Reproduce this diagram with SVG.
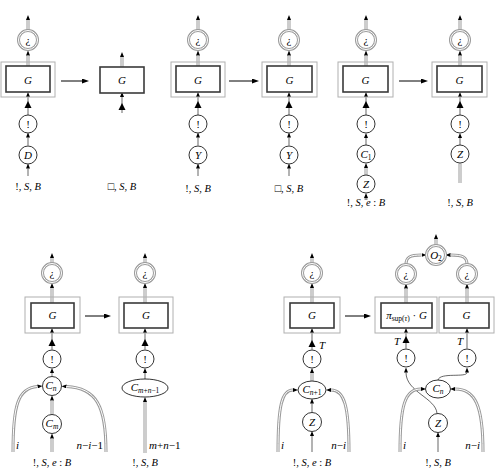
<svg xmlns="http://www.w3.org/2000/svg" width="496" height="470" viewBox="0 0 496 470" font-family="Liberation Serif, DejaVu Serif, serif" font-weight="normal">
<defs>
<style>
text{font-family:"Liberation Serif","DejaVu Serif",serif;font-size:11px;fill:#000;font-weight:normal}
.m{font-style:italic}
.lb{text-anchor:middle;font-size:10.5px}
.ct{text-anchor:middle}
.sub{font-size:7.5px}
.ob{fill:none;stroke:#b0b0b0;stroke-width:1}
.ib{fill:#fff;stroke:#3a3a3a;stroke-width:1.6}
.nd{fill:#fff;stroke:#000;stroke-width:0.8}
.gr{fill:#fff;stroke:#9a9a9a;stroke-width:3}
.gri{fill:none;stroke:#fff;stroke-width:1}
.th{fill:none;stroke:#000;stroke-width:0.6}
.tg{fill:none;stroke:#777;stroke-width:0.9}
.db{fill:none;stroke:#9a9a9a;stroke-width:3}
.dbi{fill:none;stroke:#fff;stroke-width:1}
.big{fill:none;stroke:#000;stroke-width:1}
</style>
<marker id="ah" viewBox="0 0 5 4" refX="0" refY="2" markerWidth="5" markerHeight="4" markerUnits="userSpaceOnUse" orient="auto"><path d="M0,0 L5,2 L0,4 z" fill="#000"/></marker>
<marker id="al" viewBox="0 0 7 5" refX="0" refY="2.5" markerWidth="7" markerHeight="5" markerUnits="userSpaceOnUse" orient="auto"><path d="M0,0 L7,2.5 L0,5 z" fill="#000"/></marker>
</defs>

<g id="connectors">
<!-- D1 -->
<path class="db" d="M28,30.5 V20" marker-end="url(#ah)"/><path class="dbi" d="M28,30.5 V20"/>
<path class="db" d="M28,66 V55.5" marker-end="url(#ah)"/><path class="dbi" d="M28,66 V55.5"/>
<path class="th" d="M28,115 V97" marker-end="url(#ah)"/><polygon points="28,101 31.5,108 24.5,108"/>
<path class="th" d="M28,145.5 V137.5" marker-end="url(#ah)"/>
<path class="th" d="M28,176 V168.5" marker-end="url(#ah)"/>
<path class="big" d="M61,81 H82" marker-end="url(#al)"/>
<!-- D2 -->
<path class="db" d="M122,67 V57" marker-end="url(#ah)"/><path class="dbi" d="M122,67 V57"/>
<path class="th" d="M122,113 V97" marker-end="url(#ah)"/><polygon points="122,103 125.5,110 118.5,110"/>
<!-- D3 -->
<path class="db" d="M198,30.5 V20" marker-end="url(#ah)"/><path class="dbi" d="M198,30.5 V20"/>
<path class="db" d="M198,66 V55.5" marker-end="url(#ah)"/><path class="dbi" d="M198,66 V55.5"/>
<path class="th" d="M198,115 V97" marker-end="url(#ah)"/><polygon points="198,101 201.5,108 194.5,108"/>
<path class="th" d="M198,145.5 V137.5" marker-end="url(#ah)"/>
<path class="th" d="M198,176 V168.5" marker-end="url(#ah)"/>
<path class="big" d="M229,81 H252" marker-end="url(#al)"/>
<!-- D4 -->
<path class="db" d="M289,30.5 V20" marker-end="url(#ah)"/><path class="dbi" d="M289,30.5 V20"/>
<path class="db" d="M289,66 V55.5" marker-end="url(#ah)"/><path class="dbi" d="M289,66 V55.5"/>
<path class="th" d="M289,115 V97" marker-end="url(#ah)"/><polygon points="289,101 292.5,108 285.5,108"/>
<path class="th" d="M289,145.5 V137.5" marker-end="url(#ah)"/>
<path class="th" d="M289,176 V168.5" marker-end="url(#ah)"/>
<!-- D5 -->
<path class="db" d="M366,30.5 V20" marker-end="url(#ah)"/><path class="dbi" d="M366,30.5 V20"/>
<path class="db" d="M366,66 V55.5" marker-end="url(#ah)"/><path class="dbi" d="M366,66 V55.5"/>
<path class="th" d="M366,115 V97" marker-end="url(#ah)"/><polygon points="366,101 369.5,108 362.5,108"/>
<path class="th" d="M366,145 V138" marker-end="url(#ah)"/>
<path class="db" d="M366,175 V168" marker-end="url(#ah)"/><path class="dbi" d="M366,175 V168"/>
<path class="db" d="M366,200 V198" marker-end="url(#ah)"/>
<path class="big" d="M399,81 H421" marker-end="url(#al)"/>
<!-- D6 -->
<path class="db" d="M460,30.5 V20" marker-end="url(#ah)"/><path class="dbi" d="M460,30.5 V20"/>
<path class="db" d="M460,66 V55.5" marker-end="url(#ah)"/><path class="dbi" d="M460,66 V55.5"/>
<path class="th" d="M460,115 V97" marker-end="url(#ah)"/><polygon points="460,101 463.5,108 456.5,108"/>
<path class="th" d="M460,145 V138" marker-end="url(#ah)"/>
<path class="db" d="M460,163.5 V183"/><path class="dbi" d="M460,164 V183"/>

<!-- D7 -->
<path class="db" d="M52,263.5 V258" marker-end="url(#ah)"/><path class="dbi" d="M52,263.5 V258"/>
<path class="db" d="M52,303 V288" marker-end="url(#ah)"/><path class="dbi" d="M52,303 V288"/>
<path class="th" d="M52,349.5 V333" marker-end="url(#ah)"/><polygon points="52,339 55.5,346 48.5,346"/>
<path class="tg" d="M52,376.5 V373" marker-end="url(#ah)"/>
<path class="db" d="M52,414.5 V400.5" marker-end="url(#ah)"/><path class="dbi" d="M52,414.5 V400.5"/>
<path class="db" d="M52,452 V438.5" marker-end="url(#ah)"/><path class="dbi" d="M52,452 V438.5"/>
<path class="db" d="M13,452 C13,405 18,388 37.5,386.5" marker-end="url(#ah)"/><path class="dbi" d="M13,452 C13,405 18,388 37.5,386.5"/>
<path class="db" d="M106,452 C106,405 96,388 66.5,386.5" marker-end="url(#ah)"/><path class="dbi" d="M106,452 C106,405 96,388 66.5,386.5"/>
<path class="big" d="M85,316 H104" marker-end="url(#al)"/>
<!-- D8 -->
<path class="db" d="M145,263.5 V258" marker-end="url(#ah)"/><path class="dbi" d="M145,263.5 V258"/>
<path class="db" d="M145,303 V288" marker-end="url(#ah)"/><path class="dbi" d="M145,303 V288"/>
<path class="th" d="M145,349.5 V333" marker-end="url(#ah)"/><polygon points="145,339 148.5,346 141.5,346"/>
<path class="th" d="M145,379 V373" marker-end="url(#ah)"/>
<path class="db" d="M145,453 V402" marker-end="url(#ah)"/><path class="dbi" d="M145,453 V402"/>
<!-- D9 -->
<path class="db" d="M312,263.5 V258" marker-end="url(#ah)"/><path class="dbi" d="M312,263.5 V258"/>
<path class="db" d="M312,303 V288" marker-end="url(#ah)"/><path class="dbi" d="M312,303 V288"/>
<path class="th" d="M312,349.5 V333" marker-end="url(#ah)"/><polygon points="312,340 315.5,347 308.5,347"/>
<path class="db" d="M312,381 V373" marker-end="url(#ah)"/><path class="dbi" d="M312,381 V373"/>
<path class="th" d="M312,412.5 V403.5" marker-end="url(#ah)"/>
<path class="th" d="M312,452 V436" marker-end="url(#ah)"/>
<path class="db" d="M278,452 C278,405 282,390 293,390" marker-end="url(#ah)"/><path class="dbi" d="M278,452 C278,405 282,390 293,390"/>
<path class="db" d="M349,452 C349,405 344,390 331,390" marker-end="url(#ah)"/><path class="dbi" d="M349,452 C349,405 344,390 331,390"/>
<path class="big" d="M345,316 H364" marker-end="url(#al)"/>
<!-- D10 -->
<path class="db" d="M436,245.5 V239" marker-end="url(#ah)"/><path class="dbi" d="M436,245.5 V239"/>
<path class="db" d="M406,264.5 C406,257 410,255 421.5,255" marker-end="url(#ah)"/><path class="dbi" d="M406,264.5 C406,257 410,255 421.5,255"/>
<path class="db" d="M467,264.5 C467,257 463,255 450.5,255" marker-end="url(#ah)"/><path class="dbi" d="M467,264.5 C467,257 463,255 450.5,255"/>
<path class="db" d="M406,303 V288.5" marker-end="url(#ah)"/><path class="dbi" d="M406,303 V288.5"/>
<path class="db" d="M467,303 V288.5" marker-end="url(#ah)"/><path class="dbi" d="M467,303 V288.5"/>
<path class="th" d="M406,348.5 V333" marker-end="url(#ah)"/><polygon points="406,336 409.5,343 402.5,343"/>
<path class="th" d="M467,348.5 V333" marker-end="url(#ah)"/>
<path class="th" d="M437,413.5 C436,398 406,392 406,372.5" marker-end="url(#ah)"/>
<path class="th" d="M438,380 C440,372 467,378 467,372.5" marker-end="url(#ah)"/>
<path class="th" d="M438,452 V437" marker-end="url(#ah)"/>
<path class="db" d="M400,452 C400,405 405,389 421,389" marker-end="url(#ah)"/><path class="dbi" d="M400,452 C400,405 405,389 421,389"/>
<path class="db" d="M483,452 C483,405 475,389 455,389" marker-end="url(#ah)"/><path class="dbi" d="M483,452 C483,405 475,389 455,389"/>
</g>

<!-- ===== Top row ===== -->
<g id="d1">
<circle class="gr" cx="28" cy="40" r="9.5"/><circle class="gri" cx="28" cy="40" r="9.5"/><text class="ct" x="28" y="44">¿</text>
<rect class="ob" x="1" y="62" width="54" height="35"/><rect class="ib" x="6" y="66" width="44" height="26"/><text class="ct m" x="28" y="83.5">G</text>
<circle class="nd" cx="28" cy="124" r="9"/><text class="ct" x="28" y="128">!</text>
<circle class="nd" cx="28" cy="155" r="9"/><text class="ct m" x="28" y="159">D</text>
<text class="lb" x="28" y="190">!, <tspan class="m">S</tspan>, <tspan class="m">B</tspan></text>
</g>
<g id="d2">
<rect class="ib" x="100" y="67" width="44" height="26"/><text class="ct m" x="122" y="84">G</text>
<text class="lb" x="122" y="190">□, <tspan class="m">S</tspan>, <tspan class="m">B</tspan></text>
</g>
<g id="d3">
<circle class="gr" cx="198" cy="40" r="9.5"/><circle class="gri" cx="198" cy="40" r="9.5"/><text class="ct" x="198" y="44">¿</text>
<rect class="ob" x="171" y="62" width="54" height="35"/><rect class="ib" x="176" y="66" width="44" height="26"/><text class="ct m" x="198" y="83.5">G</text>
<circle class="nd" cx="198" cy="124" r="9"/><text class="ct" x="198" y="128">!</text>
<circle class="nd" cx="198" cy="155" r="9"/><text class="ct m" x="198" y="159">Y</text>
<text class="lb" x="198" y="192">!, <tspan class="m">S</tspan>, <tspan class="m">B</tspan></text>
</g>
<g id="d4">
<circle class="gr" cx="289" cy="40" r="9.5"/><circle class="gri" cx="289" cy="40" r="9.5"/><text class="ct" x="289" y="44">¿</text>
<rect class="ob" x="262" y="62" width="55" height="35"/><rect class="ib" x="267" y="66" width="45" height="26"/><text class="ct m" x="289.5" y="83.5">G</text>
<circle class="nd" cx="289" cy="124" r="9"/><text class="ct" x="289" y="128">!</text>
<circle class="nd" cx="289" cy="155" r="9"/><text class="ct m" x="289" y="159">Y</text>
<text class="lb" x="289" y="192">□, <tspan class="m">S</tspan>, <tspan class="m">B</tspan></text>
</g>
<g id="d5">
<circle class="gr" cx="366" cy="40" r="9.5"/><circle class="gri" cx="366" cy="40" r="9.5"/><text class="ct" x="366" y="44">¿</text>
<rect class="ob" x="338" y="62" width="55" height="35"/><rect class="ib" x="343" y="66" width="45" height="26"/><text class="ct m" x="365.5" y="83.5">G</text>
<circle class="nd" cx="366" cy="124" r="9"/><text class="ct" x="366" y="128">!</text>
<circle class="nd" cx="366" cy="154" r="9"/><text class="ct" x="366" y="158"><tspan class="m">C</tspan><tspan class="sub" dy="2">1</tspan></text>
<circle class="nd" cx="366" cy="184" r="9"/><text class="ct m" x="366" y="188">Z</text>
<text class="lb" x="366" y="206">!, <tspan class="m">S</tspan>, <tspan class="m">e</tspan> : <tspan class="m">B</tspan></text>
</g>
<g id="d6">
<circle class="gr" cx="460" cy="40" r="9.5"/><circle class="gri" cx="460" cy="40" r="9.5"/><text class="ct" x="460" y="44">¿</text>
<rect class="ob" x="432" y="62" width="55" height="35"/><rect class="ib" x="437" y="66" width="45" height="26"/><text class="ct m" x="459.5" y="83.5">G</text>
<circle class="nd" cx="460" cy="124" r="9"/><text class="ct" x="460" y="128">!</text>
<circle class="nd" cx="460" cy="154" r="9"/><text class="ct m" x="460" y="158">Z</text>
<text class="lb" x="460" y="206">!, <tspan class="m">S</tspan>, <tspan class="m">B</tspan></text>
</g>

<!-- ===== Bottom row ===== -->
<g id="d7">
<circle class="gr" cx="52" cy="273" r="9.5"/><circle class="gri" cx="52" cy="273" r="9.5"/><text class="ct" x="52" y="277">¿</text>
<rect class="ob" x="25" y="297" width="55" height="36"/><rect class="ib" x="31" y="303" width="43" height="25"/><text class="ct m" x="52.5" y="319">G</text>
<circle class="nd" cx="52" cy="359" r="9"/><text class="ct" x="52" y="363">!</text>
<circle class="nd" cx="52" cy="386" r="9.5"/><text class="ct" x="51" y="389"><tspan class="m">C</tspan><tspan class="sub m" dy="2">n</tspan></text>
<circle class="nd" cx="52" cy="424" r="9.5"/><text class="ct" x="52" y="427"><tspan class="m">C</tspan><tspan class="sub m" dy="2">m</tspan></text>
<text class="m" x="16" y="449" font-size="10">i</text>
<text class="m" x="103" y="449" font-size="10" text-anchor="end">n<tspan font-style="normal">−</tspan>i<tspan font-style="normal">−1</tspan></text>
<text class="lb" x="52" y="466">!, <tspan class="m">S</tspan>, <tspan class="m">e</tspan> : <tspan class="m">B</tspan></text>
</g>
<g id="d8">
<circle class="gr" cx="145" cy="273" r="9.5"/><circle class="gri" cx="145" cy="273" r="9.5"/><text class="ct" x="145" y="277">¿</text>
<rect class="ob" x="119" y="297" width="54" height="36"/><rect class="ib" x="124" y="303" width="44" height="25"/><text class="ct m" x="146" y="319">G</text>
<circle class="nd" cx="145" cy="359" r="9"/><text class="ct" x="145" y="363">!</text>
<ellipse class="nd" cx="145" cy="388" rx="23" ry="9"/><text class="ct" x="145" y="391"><tspan class="m">C</tspan><tspan class="sub" dy="2"><tspan class="m">m</tspan>+<tspan class="m">n</tspan>−1</tspan></text>
<text x="149" y="449" font-size="10"><tspan class="m">m</tspan>+<tspan class="m">n</tspan>−1</text>
<text class="lb" x="145" y="466">!, <tspan class="m">S</tspan>, <tspan class="m">B</tspan></text>
</g>
<g id="d9">
<circle class="gr" cx="312" cy="273" r="9.5"/><circle class="gri" cx="312" cy="273" r="9.5"/><text class="ct" x="312" y="277">¿</text>
<rect class="ob" x="284" y="297" width="56" height="36"/><rect class="ib" x="290" y="303" width="44" height="25"/><text class="ct m" x="312" y="319">G</text>
<text class="m" x="319" y="349" font-size="10">T</text>
<circle class="nd" cx="312" cy="359" r="9"/><text class="ct" x="312" y="363">!</text>
<ellipse class="nd" cx="312" cy="390" rx="14" ry="9"/><text class="ct" x="312" y="393"><tspan class="m">C</tspan><tspan class="sub" dy="2"><tspan class="m">n</tspan>+1</tspan></text>
<circle class="nd" cx="312" cy="422" r="9.5"/><text class="ct m" x="312" y="426">Z</text>
<text class="m" x="281" y="449" font-size="10">i</text>
<text class="m" x="346" y="449" font-size="10" text-anchor="end">n<tspan font-style="normal">−</tspan>i</text>
<text class="lb" x="312" y="466">!, <tspan class="m">S</tspan>, <tspan class="m">e</tspan> : <tspan class="m">B</tspan></text>
</g>
<g id="d10">
<circle class="gr" cx="436" cy="255" r="9.5"/><circle class="gri" cx="436" cy="255" r="9.5"/><text class="ct" x="436" y="259"><tspan class="m">O</tspan><tspan class="sub" dy="2">2</tspan></text>
<circle class="gr" cx="406" cy="274" r="9.5"/><circle class="gri" cx="406" cy="274" r="9.5"/><text class="ct" x="406" y="278">¿</text>
<circle class="gr" cx="467" cy="274" r="9.5"/><circle class="gri" cx="467" cy="274" r="9.5"/><text class="ct" x="467" y="278">¿</text>
<rect class="ob" x="375" y="297" width="62" height="36"/><rect class="ib" x="381" y="303" width="51" height="25"/>
<text class="ct" x="406.5" y="319" font-size="10"><tspan class="m">π</tspan><tspan class="sub" dy="2">sup(<tspan class="m">τ</tspan>)</tspan><tspan dy="-2"> · </tspan><tspan class="m">G</tspan></text>
<rect class="ob" x="439" y="297" width="55" height="36"/><rect class="ib" x="444" y="303" width="45" height="25"/><text class="ct m" x="466.5" y="319">G</text>
<text class="m" x="394" y="345" font-size="10">T</text>
<text class="m" x="457" y="345" font-size="10">T</text>
<circle class="nd" cx="406" cy="358" r="9"/><text class="ct" x="406" y="362">!</text>
<circle class="nd" cx="467" cy="358" r="9"/><text class="ct" x="467" y="362">!</text>
<ellipse class="nd" cx="438" cy="389" rx="12.5" ry="9"/><text class="ct" x="438" y="392"><tspan class="m">C</tspan><tspan class="sub m" dy="2">n</tspan></text>
<circle class="nd" cx="438" cy="423" r="9.5"/><text class="ct m" x="438" y="427">Z</text>
<text class="m" x="403" y="449" font-size="10">i</text>
<text class="m" x="480" y="449" font-size="10" text-anchor="end">n<tspan font-style="normal">−</tspan>i</text>
<text class="lb" x="438" y="466">!, <tspan class="m">S</tspan>, <tspan class="m">B</tspan></text>
</g>
</svg>
